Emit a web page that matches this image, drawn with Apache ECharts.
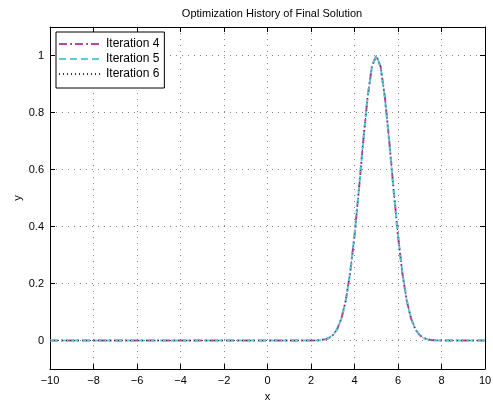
<!DOCTYPE html>
<html>
<head>
<meta charset="utf-8">
<script src="https://cdn.jsdelivr.net/npm/echarts@6/dist/echarts.min.js"></script>
<style>
  html, body { margin: 0; padding: 0; background: #fff; }
  #chart { width: 493px; height: 405px; }
</style>
</head>
<body>
<div id="chart"></div>
<script>
// data
var xValues = [-10, 2.0, 2.2, 2.4, 2.6, 2.8, 3.0, 3.2, 3.4, 3.6, 3.8, 4.0, 4.2, 4.4, 4.6, 4.8, 5.0,
               5.2, 5.4, 5.6, 5.8, 6.0, 6.2, 6.4, 6.6, 6.8, 7.0, 7.2, 7.4, 7.6, 7.8, 8.0, 10];
var iter4 = [0, 0.0001, 0.0004, 0.0012, 0.0032, 0.0079, 0.0183, 0.0392, 0.0773, 0.1409, 0.2369, 0.3679,
             0.5273, 0.6977, 0.8521, 0.9608, 1.0, 0.9608, 0.8521, 0.6977, 0.5273, 0.3679, 0.2369,
             0.1409, 0.0773, 0.0392, 0.0183, 0.0079, 0.0032, 0.0012, 0.0004, 0.0001, 0];
var iter5 = [0, 0.0001, 0.0004, 0.0012, 0.0032, 0.0079, 0.0183, 0.0392, 0.0773, 0.1409, 0.2369, 0.3679,
             0.5273, 0.6977, 0.8521, 0.9608, 1.0, 0.9608, 0.8521, 0.6977, 0.5273, 0.3679, 0.2369,
             0.1409, 0.0773, 0.0392, 0.0183, 0.0079, 0.0032, 0.0012, 0.0004, 0.0001, 0];
var iter6 = [0, 0.0001, 0.0004, 0.0012, 0.0032, 0.0079, 0.0183, 0.0392, 0.0773, 0.1409, 0.2369, 0.3679,
             0.5273, 0.6977, 0.8521, 0.9608, 1.0, 0.9608, 0.8521, 0.6977, 0.5273, 0.3679, 0.2369,
             0.1409, 0.0773, 0.0392, 0.0183, 0.0079, 0.0032, 0.0012, 0.0004, 0.0001, 0];
var yTicks = [0, 0.2, 0.4, 0.6, 0.8, 1];
var seriesNames = ['Iteration 4', 'Iteration 5', 'Iteration 6'];

function pairs(ys) {
    return xValues.map(function (x, i) { return [x, ys[i]]; });
}

var myChart = echarts.init(document.getElementById('chart'));

var font = 'Liberation Sans, Arial, Helvetica, sans-serif';
var gridLine = { show: true, lineStyle: { color: '#888', width: 1, type: [1, 5] } };
var frame = { show: true, onZero: false, lineStyle: { color: '#000', width: 1 } };
var tick = { show: true, inside: true, length: 5, lineStyle: { color: '#000' } };

var option = {
    animation: false,
    title: {
        text: 'Optimization History of Final Solution',
        left: 267, top: 3, textAlign: 'center',
        textStyle: { fontFamily: font, fontSize: 11, fontWeight: 'normal', color: '#000' }
    },
    legend: {
        data: seriesNames,
        orient: 'vertical',
        left: 56, top: 32,
        backgroundColor: '#fff',
        borderColor: '#000', borderWidth: 1, borderRadius: 0,
        padding: [6, 5, 8, 2],
        itemWidth: 42, itemHeight: 12, itemGap: 3,
        itemStyle: { opacity: 0 },
        textStyle: { fontFamily: font, fontSize: 12, color: '#000' }
    },
    grid: { left: 50, right: 8, top: 27, bottom: 36, outerBoundsMode: 'none', containLabel: false },
    xAxis: [{
        type: 'value', min: -10, max: 10, interval: 2,
        name: 'x', nameLocation: 'middle', nameGap: 22,
        nameTextStyle: { fontFamily: font, fontSize: 11, color: '#000' },
        axisLine: frame, axisTick: tick, splitLine: gridLine,
        axisLabel: {
            fontFamily: font, fontSize: 11, color: '#000', margin: 6,
            formatter: function (v) { return String(v).replace('-', '\u2212'); }
        }
    }, {
        type: 'value', min: -10, max: 10, interval: 2, position: 'top',
        axisLine: frame, axisTick: tick, axisLabel: { show: false }, splitLine: { show: false }
    }],
    yAxis: [{
        type: 'value', min: -0.1, max: 1.1,
        name: 'y', nameLocation: 'middle', nameGap: 27, nameMoveOverlap: false,
        nameTextStyle: { fontFamily: font, fontSize: 11, color: '#000' },
        axisLine: frame,
        axisTick: { show: true, inside: true, length: 5, lineStyle: { color: '#000' }, customValues: yTicks },
        splitLine: gridLine,
        axisLabel: { fontFamily: font, fontSize: 11, color: '#000', margin: 6, customValues: yTicks }
    }, {
        type: 'value', min: -0.1, max: 1.1, position: 'right',
        axisLine: frame,
        axisTick: { show: true, inside: true, length: 5, lineStyle: { color: '#000' }, customValues: yTicks },
        axisLabel: { show: false, customValues: yTicks }, splitLine: { show: false }
    }],
    series: [{
        name: seriesNames[0], type: 'line', data: pairs(iter4),
        showSymbol: false, symbol: 'none',
        lineStyle: { color: '#c0449f', width: 2, type: [8, 3, 2, 3] },
        itemStyle: { color: '#c0449f' }
    }, {
        name: seriesNames[1], type: 'line', data: pairs(iter5),
        showSymbol: false, symbol: 'none',
        lineStyle: { color: '#5ccadc', width: 2, type: [7, 4] },
        itemStyle: { color: '#5ccadc' }
    }, {
        name: seriesNames[2], type: 'line', data: pairs(iter6),
        showSymbol: false, symbol: 'none',
        lineStyle: { color: '#333', width: 1, type: [1, 3] },
        itemStyle: { color: '#333' }
    }]
};

myChart.setOption(option);
</script>
</body>
</html>
